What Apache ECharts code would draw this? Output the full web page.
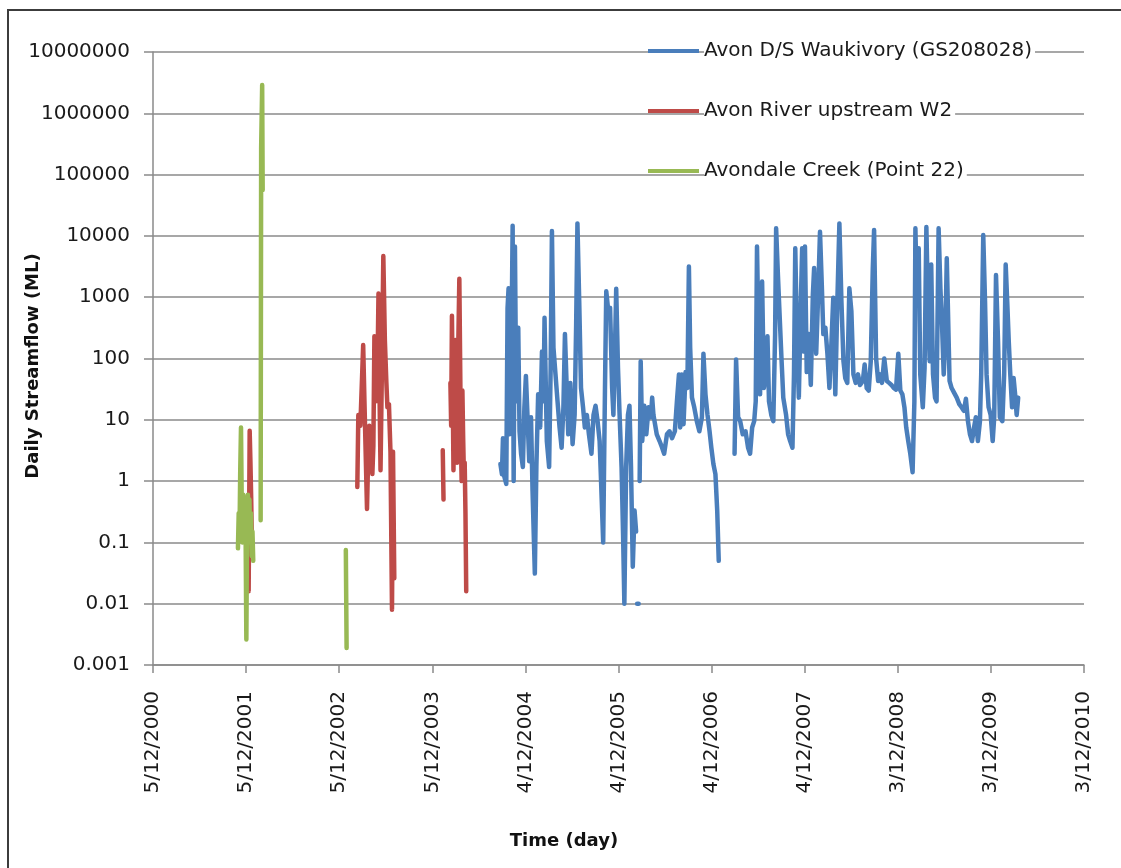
<!DOCTYPE html>
<html>
<head>
<meta charset="utf-8">
<title>Daily Streamflow</title>
<script src="https://cdn.jsdelivr.net/npm/echarts@6/dist/echarts.min.js"></script>
<style>
  html, body { margin: 0; padding: 0; background: #fff; }
  #chart { width: 1121px; height: 868px; }
</style>
</head>
<body>
<div id="chart"></div>
<script>
// Time is counted in days from 5 Dec 2000; a null entry breaks the line (missing record).
const seriesNames = ['Avon D/S Waukivory (GS208028)', 'Avon River upstream W2', 'Avondale Creek (Point 22)'];

const xTickLabels = ['5/12/2000', '5/12/2001', '5/12/2002', '5/12/2003', '4/12/2004', '4/12/2005',
  '4/12/2006', '4/12/2007', '3/12/2008', '3/12/2009', '3/12/2010'];
const yTickLabels = ['0.001', '0.01', '0.1', '1', '10', '100', '1000', '10000', '100000', '1000000', '10000000'];

// Avon D/S Waukivory (GS208028)
const blueDay = [1362, 1368, 1372, 1377, 1385, 1390, 1394, 1398, 1403, 1410, 1414, 1419, 1424, 1432, 1437, 1443,
  1450, 1456, 1462, 1468, 1475, 1482, 1488, 1497, 1503, 1510, 1518, 1525, 1531, 1535, 1544, 1553, 1559, 1564,
  1570, 1578, 1586, 1594, 1602, 1609, 1615, 1621, 1628, 1636, 1645, 1653, 1659, 1664, 1671, 1678, 1686, 1693,
  1701, 1709, 1719, 1727, 1735, 1743, 1751, 1757, 1765, 1772, 1777, 1785, 1792, 1800, 1805, 1811, 1816, 1823,
  1829, 1837, 1843, 1848, 1855, 1862, 1868, 1874, 1881, 1888, 1894, null, 1898, 1904, null,
  1908, 1912, 1918, 1926, 1934, 1943, 1952, 1957, 1962, 1975, 1986, 1996, 2004, 2015, 2025, 2035, 2046, 2054,
  2062, 2067, 2073, 2080, 2088, 2095, 2101, 2106, 2113, 2122, 2132, 2142, 2152, 2158, 2166, 2174, 2182, 2189,
  2197, 2205, 2212, 2218, null,
  2280, 2286, 2294, 2302, 2312, 2323, 2333, 2341, 2349, 2357, 2363, 2368, 2375, 2380, 2388, 2395, 2402, 2409,
  2415, 2424, 2432, 2439, 2443, 2450, 2456, 2464, 2471, 2482, 2490, 2498, 2507, 2513, 2518, 2525, 2532, 2540,
  2545, 2550, 2556, 2563, 2571, 2579, 2587, 2592, 2600, 2606, 2615, 2622, 2628, 2636, 2644, 2652, 2660, 2667,
  2675, 2683, 2691, 2699, 2707, 2714, 2722, 2730, 2738, 2746, 2755, 2764, 2772, 2783, 2790, 2798, 2806, 2814,
  2822, 2827, 2835, 2843, 2850, 2858, 2867, 2877, 2886, 2895, 2904, 2913, 2922, 2930, 2938, 2946, 2953, 2961,
  2969, 2978, 2985, 2989, 2995, 3002, 3008, 3018, 3025, 3032, 3038, 3045, 3051, 3058, 3066, 3072, 3080, 3087,
  3093, 3100, 3106, 3112, 3118, 3123, 3131, 3140, 3151, 3161, 3170, 3179, 3187, 3195, 3203, 3211, 3219, 3226,
  3234, 3242, 3247, 3255, 3262, 3268, 3276, 3284, 3292, 3298, 3305, 3313, 3320, 3330, 3337, 3343, 3349, 3355,
  3361, 3368, 3374, 3380, 3386, 3392];
const blueFlow = [1.9, 1.3, 5, 1.2, 0.9, 660, 1400, 5.8, 20, 14700, 1.0, 6700, 20, 316, 6.5, 2.8,
  1.7, 16, 52, 12, 2.1, 11, 0.7, 0.031, 1.7, 26, 7.5, 130, 20, 460, 4.5, 1.7, 70, 12000,
  150, 55, 20, 7.5, 3.5, 16, 250, 260, 5.8, 40, 4, 12, 360, 16000, 850, 33, 16, 7.5,
  12, 5.8, 2.8, 12, 17, 9.5, 4.5, 0.9, 0.1, 33, 1250, 590, 670, 33, 12, 130, 1370, 70,
  13, 1.7, 0.13, 0.01, 1.7, 12, 17, 1.7, 0.04, 0.33, 0.15, null, 0.01, 0.01, null,
  1, 90, 4.5, 17, 5.8, 16, 11, 23, 12, 5.8, 4.5, 3.5, 2.8, 5.8, 6.5, 5, 6.5, 20,
  55, 7.5, 55, 8.5, 60, 33, 3160, 150, 23, 16, 9.5, 6.5, 11, 120, 26, 12, 6.5, 3.5,
  1.9, 1.3, 0.33, 0.05, null,
  2.8, 96, 11, 9.5, 5.8, 6.5, 3.5, 2.8, 7.5, 9.5, 20, 6700, 130, 26, 1800, 33, 55, 230,
  20, 12, 9.5, 250, 13300, 2300, 590, 100, 23, 12, 5.8, 4.5, 3.5, 55, 6300, 190, 23, 850,
  6300, 130, 6700, 60, 250, 37, 1100, 3000, 120, 660, 11700, 1600, 250, 320, 120, 33, 190, 980,
  26, 850, 16000, 850, 90, 48, 40, 1400, 590, 55, 40, 55, 37, 43, 80, 33, 30, 90,
  3000, 12500, 100, 43, 55, 40, 100, 43, 40, 37, 33, 31, 120, 30, 26, 16, 7.5, 4.5,
  2.8, 1.4, 20, 13300, 850, 6300, 55, 16, 70, 14000, 850, 90, 3400, 55, 23, 20, 13300, 1400,
  400, 55, 190, 4300, 4000, 43, 33, 28, 23, 18, 16, 14, 22, 9.5, 5.8, 4.5, 7.5, 11,
  4.5, 9.5, 55, 10300, 850, 55, 16, 12, 4.5, 11, 2300, 190, 11, 9.5, 55, 3400, 850, 190,
  55, 16, 48, 26, 12, 23];

// Avon River upstream W2
const redDay = [371, 375, 377, 379, 382, 385, 388, null,
  801, 805, 813, 824, 829, 839, 844, 848, 860, 864, 868, 874, 880, 884, 888, 892, 898, 903, 909, 915,
  919, 925, 931, 937, 941, 946, null,
  1136, 1139, null,
  1166, 1169, 1172, 1175, 1178, 1181, 1185, 1188, 1192, 1196, 1201, 1204, 1207, 1210, 1213, 1216, 1219,
  1222, 1225, 1228];
const redFlow = [0.05, 0.016, 0.3, 6.6, 2, 0.5, 0.08, null,
  0.8, 12, 8, 166, 20, 0.35, 3, 8, 1.3, 3.8, 230, 20, 60, 1150, 30, 1.5, 100, 4700, 200, 40,
  16, 18, 3, 0.008, 3, 0.026, null,
  3.2, 0.5, null,
  40, 8, 500, 30, 1.5, 60, 200, 10, 2, 100, 2000, 100, 5, 1, 30, 5, 1.2,
  2, 0.3, 0.016];

// Avondale Creek (Point 22)
const greenDay = [333, 336, 339, 342, 345, 348, 351, 354, 357, 360, 363, 366, 369, 372, 375, 378, 381, 384,
  387, 390, 393, null, 422, 424, 428, 430, null, 756, 759];
const greenFlow = [0.08, 0.3, 0.12, 1.5, 7.5, 0.4, 0.1, 0.6, 0.2, 0.5, 0.15, 0.0026, 0.3, 0.6, 0.2, 0.5, 0.1, 0.3,
  0.06, 0.15, 0.05, null, 0.23, 270000, 2900000, 56000, null, 0.075, 0.0019];

const seriesColors = ['#4a7ebb', '#be4b48', '#98b954'];

function toPoints(days, flows) {
  return days.map((d, i) => (d === null || flows[i] === null) ? [null, null] : [d, flows[i]]);
}

const FONT = 'DejaVu Sans';
const AXIS_GREY = '#8a8a8a';

const chart = echarts.init(document.getElementById('chart'), null, { renderer: 'canvas' });

const lineSeries = [
  [blueDay, blueFlow], [redDay, redFlow], [greenDay, greenFlow]
].map(([d, f], i) => ({
  name: seriesNames[i],
  type: 'line',
  data: toPoints(d, f),
  showSymbol: false,
  symbol: 'none',
  connectNulls: false,
  silent: true,
  color: seriesColors[i],
  lineStyle: { width: 4.5, color: seriesColors[i], cap: 'round', join: 'round' },
  emphasis: { disabled: true }
}));

chart.setOption({
  animation: false,
  backgroundColor: '#ffffff',
  grid: { left: 153, top: 52, width: 931, height: 613, containLabel: false },
  xAxis: {
    type: 'value',
    min: 0,
    max: 3650,
    interval: 365,
    axisLine: { show: true, onZero: false, lineStyle: { color: AXIS_GREY, width: 1.5 } },
    axisTick: { show: true, inside: false, length: 8, lineStyle: { color: AXIS_GREY, width: 1.5 } },
    splitLine: { show: false },
    axisLabel: {
      rotate: 90,
      margin: 26,
      fontFamily: FONT,
      fontSize: 20,
      color: '#1a1a1a',
      showMinLabel: true,
      showMaxLabel: true,
      formatter: v => xTickLabels[Math.round(v / 365)]
    }
  },
  yAxis: {
    type: 'log',
    logBase: 10,
    min: 0.001,
    max: 10000000,
    interval: 1,
    axisLine: { show: true, lineStyle: { color: AXIS_GREY, width: 1.5 } },
    axisTick: { show: true, inside: false, length: 9, lineStyle: { color: AXIS_GREY, width: 1.5 } },
    splitLine: { show: true, lineStyle: { color: AXIS_GREY, width: 1.5 } },
    minorTick: { show: false },
    axisLabel: {
      margin: 23,
      fontFamily: FONT,
      fontSize: 20,
      color: '#1a1a1a',
      showMinLabel: true,
      showMaxLabel: true,
      formatter: v => yTickLabels[Math.round(Math.log10(v)) + 3]
    }
  },
  legend: {
    orient: 'vertical',
    left: 648,
    top: 37,
    padding: 0,
    itemGap: 32,
    itemWidth: 51,
    itemHeight: 4,
    icon: 'rect',
    selectedMode: false,
    data: seriesNames,
    textStyle: {
      fontFamily: FONT,
      fontSize: 20,
      lineHeight: 24,
      color: '#1a1a1a',
      backgroundColor: '#ffffff',
      padding: [2, 3, 2, 0]
    }
  },
  graphic: [
    {
      type: 'rect',
      silent: true,
      shape: { x: 8, y: 10, width: 1200, height: 900 },
      style: { fill: 'none', stroke: '#3c3c3c', lineWidth: 2 }
    },
    {
      type: 'text',
      silent: true,
      x: 33,
      y: 366,
      rotation: Math.PI / 2,
      style: {
        text: 'Daily Streamflow (ML)',
        font: 'bold 18px "DejaVu Sans"',
        fill: '#111',
        align: 'center',
        verticalAlign: 'middle'
      }
    },
    {
      type: 'text',
      silent: true,
      x: 564,
      y: 841,
      style: {
        text: 'Time (day)',
        font: 'bold 18px "DejaVu Sans"',
        fill: '#111',
        align: 'center',
        verticalAlign: 'middle'
      }
    }
  ],
  series: lineSeries
});
</script>
</body>
</html>
